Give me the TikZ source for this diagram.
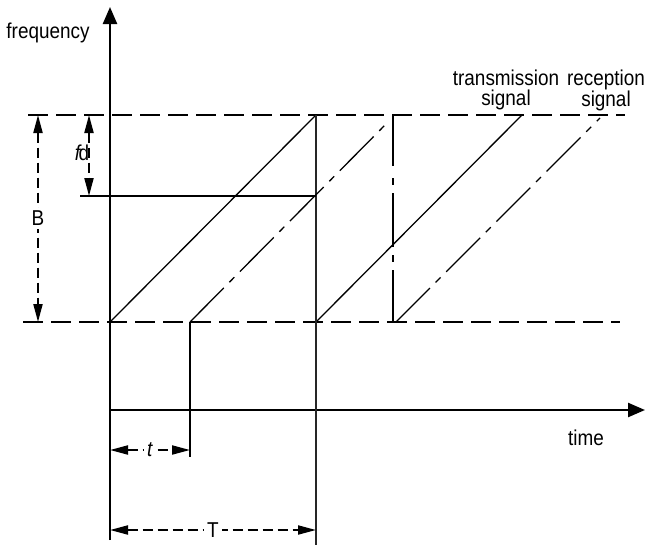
\documentclass[tikz,border=0pt]{standalone}
\usepackage{fontspec}
\setmainfont{Liberation Sans}[FakeStretch=0.88]
\usetikzlibrary{arrows.meta}
\begin{document}
\begin{tikzpicture}[x=1pt,y=-1pt,
  axis/.style={line width=2.4pt,-{Triangle[length=17pt,width=14pt]}},
  thin/.style={line width=1.3pt},
  level/.style={line width=2pt,dash pattern=on 20pt off 8pt},
  dimline/.style={line width=2pt,dash pattern=on 10pt off 5pt,{Triangle[length=18pt,width=9pt]}-{Triangle[length=18pt,width=9pt]}},
  dashdot/.style={line width=1.3pt,dash pattern=on 48pt off 8pt on 7pt off 8pt},
  lbl/.style={font=\fontsize{21.5}{20}\selectfont,inner sep=1pt},
  dimlbl/.style={lbl,fill=white,inner sep=3pt}]
\useasboundingbox (0,0) rectangle (650,546);
% coordinates
\coordinate (O) at (110,410);
\coordinate (ytop) at (110,7);
\coordinate (ybot) at (110,540);
\coordinate (xend) at (645,410);
\coordinate (topL) at (28,115);
\coordinate (topR) at (625,115);
\coordinate (botL) at (23,322);
\coordinate (botR) at (620,322);
\coordinate (t1s) at (110,322);
\coordinate (t1e) at (316,115);
\coordinate (t2s) at (316,322);
\coordinate (t2e) at (522,115);
\coordinate (r1s) at (190,322);
\coordinate (r1e) at (389,121);
\coordinate (r2s) at (396,322);
\coordinate (r2e) at (600,118);
\coordinate (vT) at (316,545);
\coordinate (vt) at (190,457);
\coordinate (vrTop) at (393,115);
\coordinate (vrMid) at (393,166);
\coordinate (vrDash) at (393,178);
\coordinate (vrBot) at (393,322);
\coordinate (fdL) at (80,196);
\coordinate (fdR) at (316,196);
% axes
\draw[axis] (ybot) -- (ytop);
\draw[axis] (O) -- (xend);
% levels
\draw[level] (topL) -- (topR);
\draw[level] (botL) -- (botR);
% transmission
\draw[thin] (t1s) -- (t1e);
\draw[thin] (t2s) -- (t2e);
\draw[line width=1.6pt,black!85] (t1e) -- (vT);
\draw[thin] (fdL) -- (fdR);
% reception
\draw[dashdot] (r1s) -- (r1e);
\draw[dashdot] (r2s) -- (r2e);
\draw[thin] (r1s) -- (vt);
\draw[thin] (vrTop) -- (vrMid);
\draw[line width=1.3pt,dash pattern=on 7pt off 8pt on 54pt off 8pt] (vrDash) -- (vrBot);
% dimensions
\draw[dimline] (38,115) -- node[dimlbl]{B} (38,322);
\draw[dimline] (89,115) -- (89,196);
\node[lbl] (fd) at (82,153) {\textit{f}\kern-3pt d};
\draw[dimline] (110,450) -- node[dimlbl]{\textit{t}} (190,450);
\draw[dimline] (110,530) -- node[dimlbl]{T} (316,530);
% labels
\node[lbl] (freq) at (48,33) {frequency};
\node[lbl] (time) at (586,438) {time};
\node[lbl,align=center] (tx) at (506,90) {transmission\\signal};
\node[lbl,align=center] (rx) at (606,90) {reception\\signal};
\end{tikzpicture}
\end{document}
